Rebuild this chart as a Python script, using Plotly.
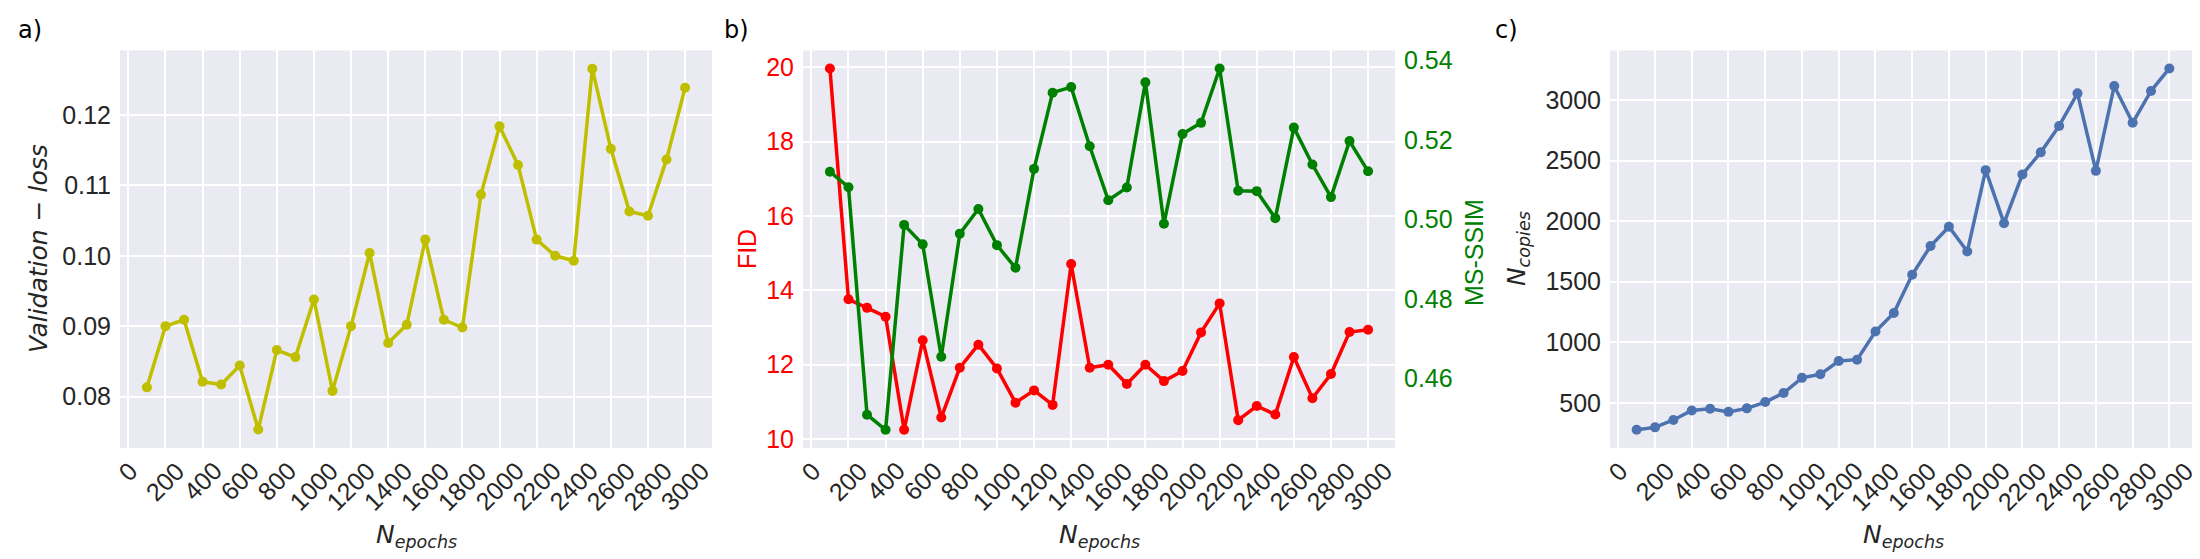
import plotly.graph_objects as go

# epochs shared by all three panels
epochs = [100, 200, 300, 400, 500, 600, 700, 800, 900, 1000,
          1100, 1200, 1300, 1400, 1500, 1600, 1700, 1800, 1900, 2000,
          2100, 2200, 2300, 2400, 2500, 2600, 2700, 2800, 2900, 3000]

val_loss = [0.0813, 0.0900, 0.0909, 0.0821, 0.0817, 0.0844, 0.0753, 0.0866, 0.0856, 0.0938,
            0.0808, 0.0900, 0.1004, 0.0876, 0.0902, 0.1023, 0.0909, 0.0898, 0.1087, 0.1184,
            0.1129, 0.1023, 0.1000, 0.0993, 0.1266, 0.1152, 0.1063, 0.1057, 0.1137, 0.1239]

fid = [19.97, 13.76, 13.53, 13.29, 10.25, 12.66, 10.58, 11.92, 12.54, 11.90,
       10.98, 11.31, 10.92, 14.71, 11.92, 12.00, 11.48, 12.00, 11.56, 11.83,
       12.87, 13.65, 10.51, 10.89, 10.66, 12.21, 11.10, 11.75, 12.88, 12.94]

ms_ssim = [0.5120, 0.5081, 0.4508, 0.4470, 0.4986, 0.4937, 0.4654, 0.4964, 0.5026, 0.4935,
           0.4878, 0.5127, 0.5319, 0.5333, 0.5184, 0.5048, 0.5080, 0.5345, 0.4989, 0.5215,
           0.5243, 0.5380, 0.5072, 0.5071, 0.5003, 0.5231, 0.5138, 0.5056, 0.5197, 0.5121]

n_copies = [277, 297, 358, 436, 451, 425, 454, 506, 581, 706,
            735, 845, 856, 1088, 1242, 1557, 1795, 1954, 1749, 2421,
            1983, 2386, 2568, 2786, 3055, 2415, 3116, 2812, 3075, 3261]

x_ticks = list(range(0, 3001, 200))
x_tick_text = [str(v) for v in x_ticks]

loss_ticks = [0.08, 0.09, 0.10, 0.11, 0.12]
loss_tick_text = ['0.08', '0.09', '0.10', '0.11', '0.12']
fid_ticks = [10, 12, 14, 16, 18, 20]
ssim_ticks = [0.46, 0.48, 0.50, 0.52, 0.54]
ssim_tick_text = ['0.46', '0.48', '0.50', '0.52', '0.54']
copies_ticks = [500, 1000, 1500, 2000, 2500, 3000]

W, H = 2200, 559
BG = '#EAEAF2'
TXT = '#262626'
SANS = 'Liberation Sans, Arial, sans-serif'
TICK_FONT = dict(family=SANS, size=25, color=TXT)
LBL_FONT = 'DejaVu Sans, sans-serif'


def px_x(v):
    return v / W


def px_y(v):
    return 1 - v / H


# panel boxes in pixels (left, right)
box_a = (112, 704)
box_b = (795, 1387)
box_c = (1602, 2188)
y_dom = [px_y(443), px_y(39)]


def line_trace(y, color, xaxis, yaxis):
    return go.Scatter(x=epochs, y=y, mode='lines+markers', xaxis=xaxis, yaxis=yaxis,
                      line=dict(color=color, width=3.5),
                      marker=dict(color=color, size=10), showlegend=False)


fig = go.Figure()
fig.add_trace(line_trace(val_loss, '#BFBF00', 'x', 'y'))
fig.add_trace(line_trace(fid, '#FF0000', 'x2', 'y2'))
fig.add_trace(line_trace(ms_ssim, '#008000', 'x2', 'y4'))
fig.add_trace(line_trace(n_copies, '#4C72B0', 'x3', 'y3'))

x_common = dict(range=[-45, 3145], tickvals=x_ticks, showticklabels=False,
                showgrid=True, gridcolor='white', gridwidth=1.8, zeroline=False,
                showline=False, ticks='')
y_common = dict(showgrid=True, gridcolor='white', gridwidth=1.8, zeroline=False,
                showline=False, ticks='', tickfont=TICK_FONT, ticklabelstandoff=8)

fig.update_layout(
    width=W, height=H,
    margin=dict(l=0, r=0, t=0, b=0),
    paper_bgcolor='white', plot_bgcolor=BG,
    xaxis=dict(domain=[px_x(box_a[0]), px_x(box_a[1])], anchor='y', **x_common),
    xaxis2=dict(domain=[px_x(box_b[0]), px_x(box_b[1])], anchor='y2', **x_common),
    xaxis3=dict(domain=[px_x(box_c[0]), px_x(box_c[1])], anchor='y3', **x_common),
    yaxis=dict(domain=y_dom, anchor='x', range=[0.0727, 0.1292],
               tickvals=loss_ticks, ticktext=loss_tick_text, **y_common),
    yaxis2=dict(domain=y_dom, anchor='x2', range=[9.764, 20.456], tickvals=fid_ticks,
                **{**y_common, 'tickfont': dict(TICK_FONT, color='#FF0000')}),
    yaxis3=dict(domain=y_dom, anchor='x3', range=[127.8, 3410], tickvals=copies_ticks, **y_common),
    yaxis4=dict(overlaying='y2', anchor='x2', side='right', range=[0.44245, 0.54255],
                tickvals=ssim_ticks, ticktext=ssim_tick_text, showgrid=False, zeroline=False,
                showline=False, ticks='', ticklabelstandoff=8,
                tickfont=dict(TICK_FONT, color='#008000')),
)

anns = []
# rotated x tick labels, centred under the tick like matplotlib
for xr in ['x', 'x2', 'x3']:
    for v, t in zip(x_ticks, x_tick_text):
        anns.append(dict(x=v, xref=xr, y=px_y(449), yref='paper', text=t, textangle=-45,
                         xanchor='center', yanchor='top', showarrow=False, font=TICK_FONT))

# x axis titles
for box in [box_a, box_b, box_c]:
    anns.append(dict(x=px_x((box[0] + box[1]) / 2), y=px_y(533), xref='paper', yref='paper',
                     text='<i>N</i><sub><i>epochs</i></sub>', showarrow=False,
                     xanchor='center', yanchor='middle',
                     font=dict(family=LBL_FONT, size=25, color=TXT)))

# y axis titles
y_titles = [
    (30, 241, '<i>Validation − loss</i>', TXT, LBL_FONT),
    (739, 241, 'FID', '#FF0000', SANS),
    (1466, 245, 'MS-SSIM', '#008000', SANS),
    (1510, 241, '<i>N</i><sub><i>copies</i></sub>', TXT, LBL_FONT),
]
for xp, yp, t, c, f in y_titles:
    anns.append(dict(x=px_x(xp), y=px_y(yp), xref='paper', yref='paper', text=t,
                     textangle=-90, showarrow=False, xanchor='center', yanchor='middle',
                     font=dict(family=f, size=25, color=c)))

# panel letters
for xp, t in [(22, 'a)'), (728, 'b)'), (1498, 'c)')]:
    anns.append(dict(x=px_x(xp), y=px_y(18), xref='paper', yref='paper', text=t,
                     showarrow=False, xanchor='center', yanchor='middle',
                     font=dict(family=LBL_FONT, size=24, color='black')))

fig.update_layout(annotations=anns)

fig.write_html("out.html")
